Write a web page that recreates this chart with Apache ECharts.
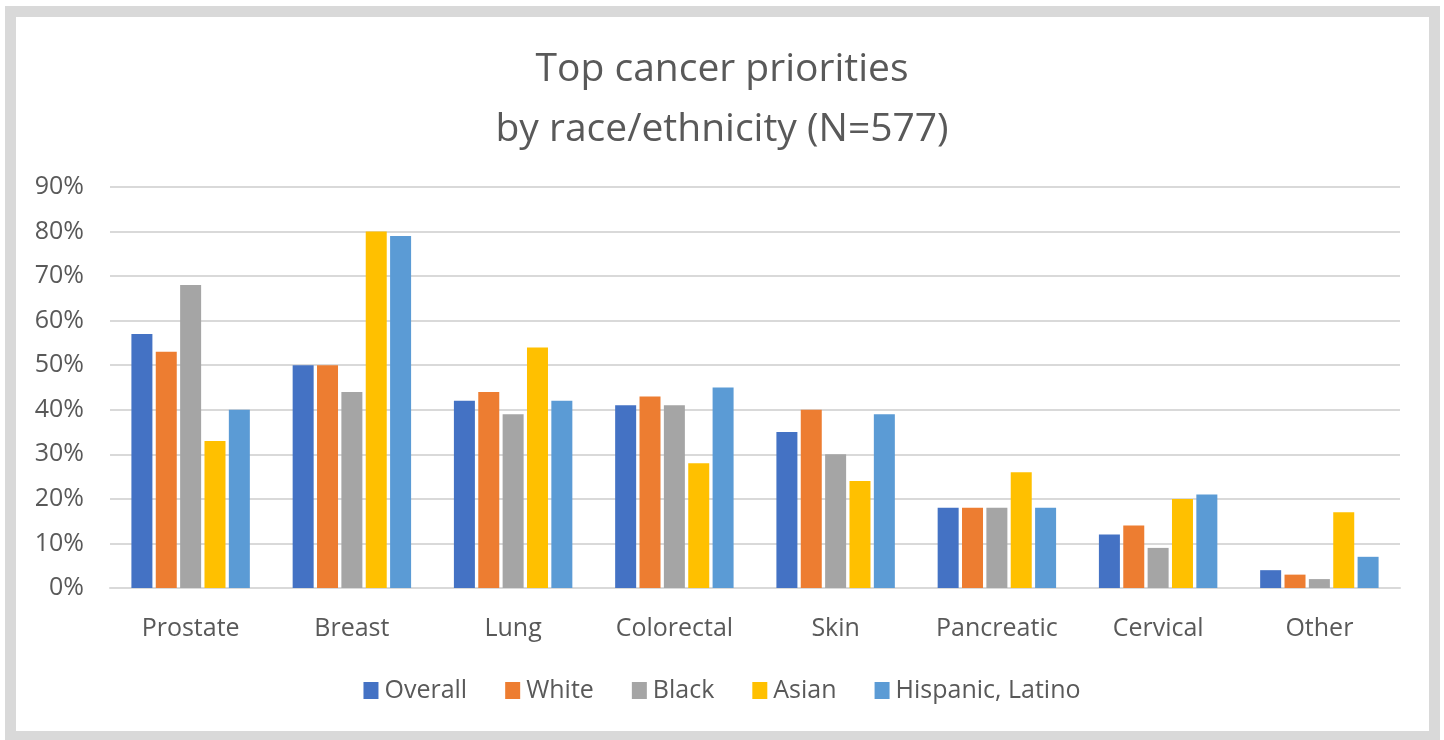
<!DOCTYPE html>
<html>
<head>
<meta charset="utf-8">
<title>Top cancer priorities by race/ethnicity</title>
<script src="https://cdn.jsdelivr.net/npm/echarts@6/dist/echarts.min.js"></script>
<style>
  html, body { margin: 0; padding: 0; background: #ffffff; }
  #chart { width: 1444px; height: 740px; }
</style>
</head>
<body>
<div id="chart"></div>
<script>
// Cancer types shown along the x axis
const categories = ['Prostate', 'Breast', 'Lung', 'Colorectal', 'Skin', 'Pancreatic', 'Cervical', 'Other'];

// Share of respondents (%) naming each cancer as a priority
const overall  = [57, 50, 42, 41, 35, 18, 12, 4];
const white    = [53, 50, 44, 43, 40, 18, 14, 3];
const black    = [68, 44, 39, 41, 30, 18, 9, 2];
const asian    = [33, 80, 54, 28, 24, 26, 20, 17];
const hispanic = [40, 79, 42, 45, 39, 18, 21, 7];

const seriesNames = ['Overall', 'White', 'Black', 'Asian', 'Hispanic, Latino'];
const seriesData = [overall, white, black, asian, hispanic];
const colors = ['#4472C4', '#ED7D31', '#A5A5A5', '#FFC000', '#5B9BD5'];

const textColor = '#595959';
const fontFamily = '"Open Sans", "Noto Sans", sans-serif';

const chart = echarts.init(document.getElementById('chart'));

chart.setOption({
  animation: false,
  textStyle: { fontFamily: fontFamily },
  title: {
    text: 'Top cancer priorities\nby race/ethnicity (N=577)',
    left: 'center',
    top: 35,
    textStyle: {
      fontFamily: fontFamily,
      fontSize: 39,
      fontWeight: 'normal',
      color: textColor,
      lineHeight: 60
    }
  },
  legend: {
    data: seriesNames,
    bottom: 32,
    left: 'center',
    icon: 'rect',
    itemWidth: 15,
    itemHeight: 17,
    itemGap: 38,
    textStyle: { fontFamily: fontFamily, fontSize: 25, color: textColor, padding: [0, 0, 0, 1] }
  },
  grid: { left: 110, right: 44, top: 187, bottom: 152 },
  xAxis: {
    type: 'category',
    data: categories,
    axisLine: { show: true, lineStyle: { color: '#d9d9d9', width: 2 } },
    axisTick: { show: false },
    axisLabel: { color: textColor, fontSize: 25, margin: 28, fontFamily: fontFamily }
  },
  yAxis: {
    type: 'value',
    min: 0,
    max: 90,
    interval: 10,
    axisLine: { show: false },
    axisTick: { show: false },
    axisLabel: { formatter: '{value}%', color: textColor, fontSize: 25, margin: 26, fontFamily: fontFamily },
    splitLine: { lineStyle: { color: '#d9d9d9', width: 2 } }
  },
  series: seriesNames.map((name, i) => ({
    name: name,
    type: 'bar',
    data: seriesData[i],
    barWidth: 21,
    barGap: '16%',
    itemStyle: { color: colors[i] }
  })),
  graphic: [{
    type: 'rect',
    silent: true,
    shape: { x: 10.5, y: 11.5, width: 1424, height: 725 },
    style: { fill: 'none', stroke: '#d9d9d9', lineWidth: 11 }
  }]
});
</script>
</body>
</html>
